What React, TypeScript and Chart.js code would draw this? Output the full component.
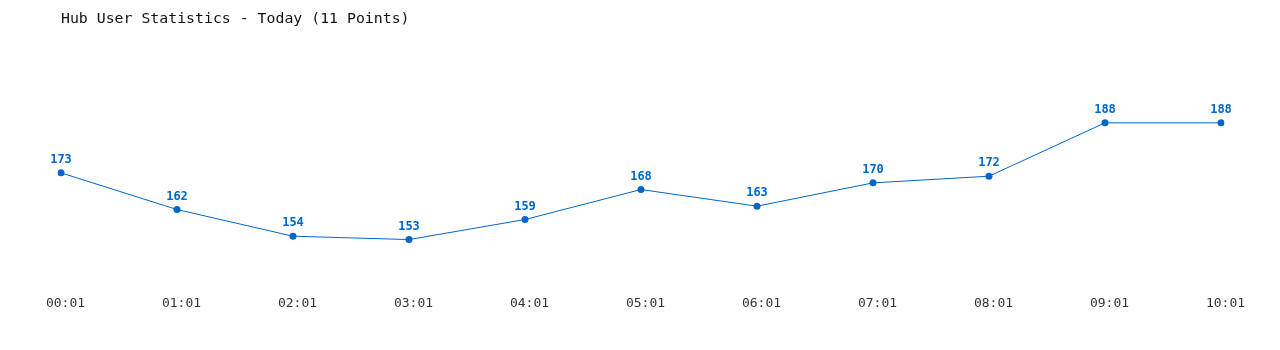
import React, { useEffect, useRef } from "react";
import { Chart, registerables } from "chart.js";

Chart.register(...registerables);

const categories = ["00:01", "01:01", "02:01", "03:01", "04:01", "05:01", "06:01", "07:01", "08:01", "09:01", "10:01"];
const userCounts = [173, 162, 154, 153, 159, 168, 163, 170, 172, 188, 188];
const titleText = "Hub User Statistics - Today (11 Points)";

const LINE_COLOR = "#0066cc";
const MONO = "'DejaVu Sans Mono', 'Liberation Mono', monospace";

const valueLabels = {
  id: "valueLabels",
  afterDatasetsDraw(chart: any) {
    const ctx = chart.ctx;
    const meta = chart.getDatasetMeta(0);
    ctx.save();
    ctx.font = `bold 12px ${MONO}`;
    ctx.fillStyle = LINE_COLOR;
    ctx.textAlign = "center";
    ctx.textBaseline = "bottom";
    meta.data.forEach((pt: any, i: number) => {
      ctx.fillText(String(chart.data.datasets[0].data[i]), pt.x, pt.y - 7);
    });
    ctx.restore();
  },
};

export default function App() {
  const ref = useRef<HTMLCanvasElement | null>(null);
  useEffect(() => {
    document.body.style.margin = "0";
    if (!ref.current) return;
    const chart = new Chart(ref.current, {
      type: "line",
      data: {
        labels: categories,
        datasets: [
          {
            data: userCounts,
            borderColor: LINE_COLOR,
            backgroundColor: LINE_COLOR,
            borderWidth: 1,
            pointRadius: 3.5,
            pointHoverRadius: 3.5,
            pointBackgroundColor: LINE_COLOR,
            pointBorderWidth: 0,
            tension: 0,
            fill: false,
          },
        ],
      },
      options: {
        animation: false,
        responsive: false,
        layout: { padding: { left: 61, right: 59, top: 0, bottom: 25.5 } },
        plugins: {
          legend: { display: false },
          tooltip: { enabled: false },
          title: {
            display: true,
            text: titleText,
            align: "start",
            color: "#111",
            font: { family: MONO, size: 14.85, weight: "normal" },
            padding: { top: 10, bottom: 55 },
          },
        },
        scales: {
          x: {
            offset: false,
            grid: { display: false, drawTicks: false },
            border: { display: false },
            ticks: {
              color: "#333",
              font: { family: MONO, size: 13 },
              padding: 13,
              labelOffset: 4.5,
              maxRotation: 0,
              autoSkip: false,
            },
          },
          y: {
            display: false,
            min: 140,
            max: 200,
          },
        },
      },
      plugins: [valueLabels],
    });
    return () => chart.destroy();
  }, []);
  return <canvas ref={ref} width={1280} height={350} style={{ display: "block" }} />;
}
